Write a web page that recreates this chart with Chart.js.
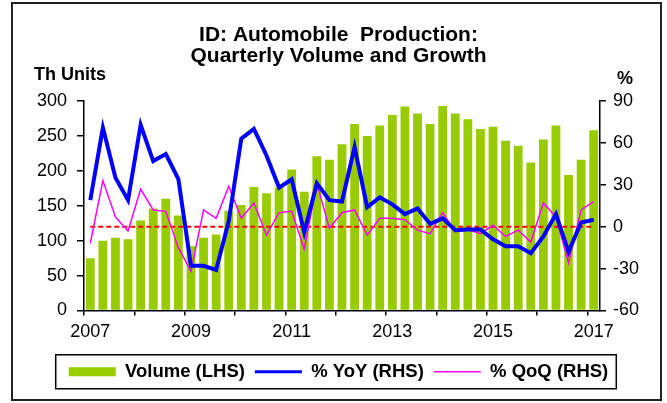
<!DOCTYPE html>
<html>
<head>
<meta charset="utf-8">
<script src="https://cdn.jsdelivr.net/npm/chart.js@4.4.1/dist/chart.umd.min.js"></script>
<style>
  html, body { margin: 0; padding: 0; background: #fff; }
  #wrap { position: relative; width: 667px; height: 403px; }
  #frame { position: absolute; left: 11px; top: 2px; width: 651px; height: 399px; box-sizing: border-box; border: 2px solid #222; pointer-events: none; }
</style>
</head>
<body>
<div id="wrap">
  <canvas id="chart" width="667" height="403"></canvas>
  <div id="frame"></div>
</div>
<script>
  const quarters = [
    '2007Q1', '2007Q2', '2007Q3', '2007Q4', '2008Q1', '2008Q2', '2008Q3', '2008Q4',
    '2009Q1', '2009Q2', '2009Q3', '2009Q4', '2010Q1', '2010Q2', '2010Q3', '2010Q4',
    '2011Q1', '2011Q2', '2011Q3', '2011Q4', '2012Q1', '2012Q2', '2012Q3', '2012Q4',
    '2013Q1', '2013Q2', '2013Q3', '2013Q4', '2014Q1', '2014Q2', '2014Q3', '2014Q4',
    '2015Q1', '2015Q2', '2015Q3', '2015Q4', '2016Q1', '2016Q2', '2016Q3', '2016Q4',
    '2017Q1'
  ];

  // thousand units
  const volume = [
    75, 100, 104, 102, 129, 146, 160, 136,
    92, 104, 109, 143, 151, 177, 168, 176,
    202, 170, 221, 216, 238, 267, 250, 265,
    280, 292, 282, 267, 293, 282, 274, 260,
    263, 243, 236, 212, 245, 265, 194, 216,
    258
  ];

  // % yoy
  const yoy = [
    19, 71, 35, 19, 73, 47, 52, 34,
    -28, -28, -31, 4, 63, 70, 51, 28,
    34, -4, 31, 19, 18, 57, 14, 21,
    16, 9, 13, 2, 6, -2.5, -2, -2,
    -9, -14, -14, -19, -7, 9, -18, 3,
    5
  ];

  // % qoq
  const qoq = [
    -12, 33, 7, -3, 27, 12, 11, -15,
    -32, 12, 6, 29, 6, 17, -6, 10,
    11, -16, 31, -1, 10, 12, -6, 6,
    6, 5, -2.5, -5, 10, -3.5, -2, -5,
    1, -7, -2.5, -11, 17, 7, -26, 12,
    18
  ];

  const zeroLine = quarters.map(() => 0);

  const titleLines = ['ID: Automobile  Production:', 'Quarterly Volume and Growth'];
  const leftTitle = 'Th Units';
  const rightTitle = '%';

  const FONT = '"Liberation Sans", Arial, sans-serif';
  const green = '#99cc00';
  const blue = '#0000ff';
  const pink = '#ff00ff';

  const extras = {
    id: 'extras',
    afterDraw(chart) {
      const { ctx, chartArea, scales, legend } = chart;
      ctx.save();
      ctx.fillStyle = '#000';
      ctx.font = 'bold 18px ' + FONT;
      ctx.textBaseline = 'alphabetic';
      ctx.textAlign = 'left';
      ctx.fillText(leftTitle, scales.y.left - 3, chartArea.top - 21);
      ctx.textAlign = 'center';
      ctx.fillText(rightTitle, scales.y1.left + 25, chartArea.top - 17);

      // box round the legend
      const boxes = legend.legendHitBoxes;
      if (boxes && boxes.length) {
        const first = boxes[0];
        const last = boxes[boxes.length - 1];
        const cy = first.top + first.height / 2;
        const x0 = first.left - 13;
        ctx.lineWidth = 1.5;
        ctx.strokeStyle = '#000';
        ctx.strokeRect(x0, cy - 17, last.left + last.width + 8 - x0, 34);
      }
      ctx.restore();
    }
  };

  new Chart(document.getElementById('chart'), {
    type: 'bar',
    data: {
      labels: quarters,
      datasets: [
        {
          label: 'Volume (LHS)',
          data: volume,
          backgroundColor: green,
          borderWidth: 0,
          barPercentage: 0.7,
          categoryPercentage: 1,
          yAxisID: 'y',
          order: 4
        },
        {
          type: 'line',
          label: '% YoY (RHS)',
          data: yoy,
          borderColor: blue,
          backgroundColor: blue,
          borderWidth: 4,
          pointRadius: 0,
          tension: 0,
          yAxisID: 'y1',
          order: 1
        },
        {
          type: 'line',
          label: '% QoQ (RHS)',
          data: qoq,
          borderColor: pink,
          backgroundColor: pink,
          borderWidth: 1.5,
          pointRadius: 0,
          tension: 0,
          yAxisID: 'y1',
          order: 2
        },
        {
          type: 'line',
          label: 'zero',
          data: zeroLine,
          borderColor: '#ff0000',
          borderWidth: 2,
          borderDash: [5, 3],
          pointRadius: 0,
          yAxisID: 'y1',
          order: 3
        }
      ]
    },
    options: {
      responsive: false,
      animation: false,
      layout: {
        padding: { top: 4, left: 37, right: 27, bottom: 12 }
      },
      scales: {
        x: {
          offset: true,
          grid: {
            offset: true,
            drawOnChartArea: false,
            tickLength: 5,
            lineWidth: 1.5,
            tickColor: (c) => (c.index % 4 === 0 ? '#000' : 'rgba(0,0,0,0)')
          },
          border: { color: '#000', width: 1.5 },
          ticks: {
            autoSkip: false,
            maxRotation: 0,
            padding: 6,
            color: '#000',
            font: { family: FONT, size: 18 },
            callback: (v, i) => (i % 8 === 0 ? quarters[i].slice(0, 4) : '')
          },
          afterFit: (s) => { s.height = 42; }
        },
        y: {
          position: 'left',
          min: 0,
          max: 300,
          grid: { drawOnChartArea: false, tickLength: 7, lineWidth: 1.5, tickColor: '#000' },
          border: { color: '#000', width: 1.5 },
          ticks: {
            stepSize: 50,
            padding: 10,
            color: '#000',
            font: { family: FONT, size: 18 }
          },
          afterFit: (s) => { s.width = 47; }
        },
        y1: {
          position: 'right',
          min: -60,
          max: 90,
          grid: { drawOnChartArea: false, tickLength: 6, lineWidth: 1.5, tickColor: '#000' },
          border: { color: '#000', width: 1.5 },
          ticks: {
            stepSize: 30,
            padding: 7,
            color: '#000',
            font: { family: FONT, size: 18 }
          },
          afterFit: (s) => { s.width = 40; }
        }
      },
      plugins: {
        title: {
          display: true,
          text: titleLines,
          color: '#000',
          font: { family: FONT, size: 21, weight: 'bold', lineHeight: 1.0 },
          padding: { top: 21, bottom: 34 }
        },
        legend: {
          position: 'bottom',
          labels: {
            usePointStyle: true,
            pointStyleWidth: 47,
            boxHeight: 9,
            padding: 10,
            color: '#000',
            font: { family: FONT, size: 18.5, weight: 'bold' },
            filter: (item) => item.text !== 'zero',
            sort: (a, b) => a.datasetIndex - b.datasetIndex,
            generateLabels: (chart) => {
              const items = Chart.defaults.plugins.legend.labels.generateLabels(chart);
              return items.map((it) => {
                if (it.datasetIndex === 0) {
                  it.pointStyle = 'rect';
                  it.lineWidth = 0;
                  it.fillStyle = green;
                  it.strokeStyle = green;
                } else {
                  it.pointStyle = 'line';
                  it.lineWidth = it.datasetIndex === 1 ? 3 : 1.5;
                }
                return it;
              });
            }
          }
        },
        tooltip: { enabled: false }
      }
    },
    plugins: [extras]
  });
</script>
</body>
</html>
